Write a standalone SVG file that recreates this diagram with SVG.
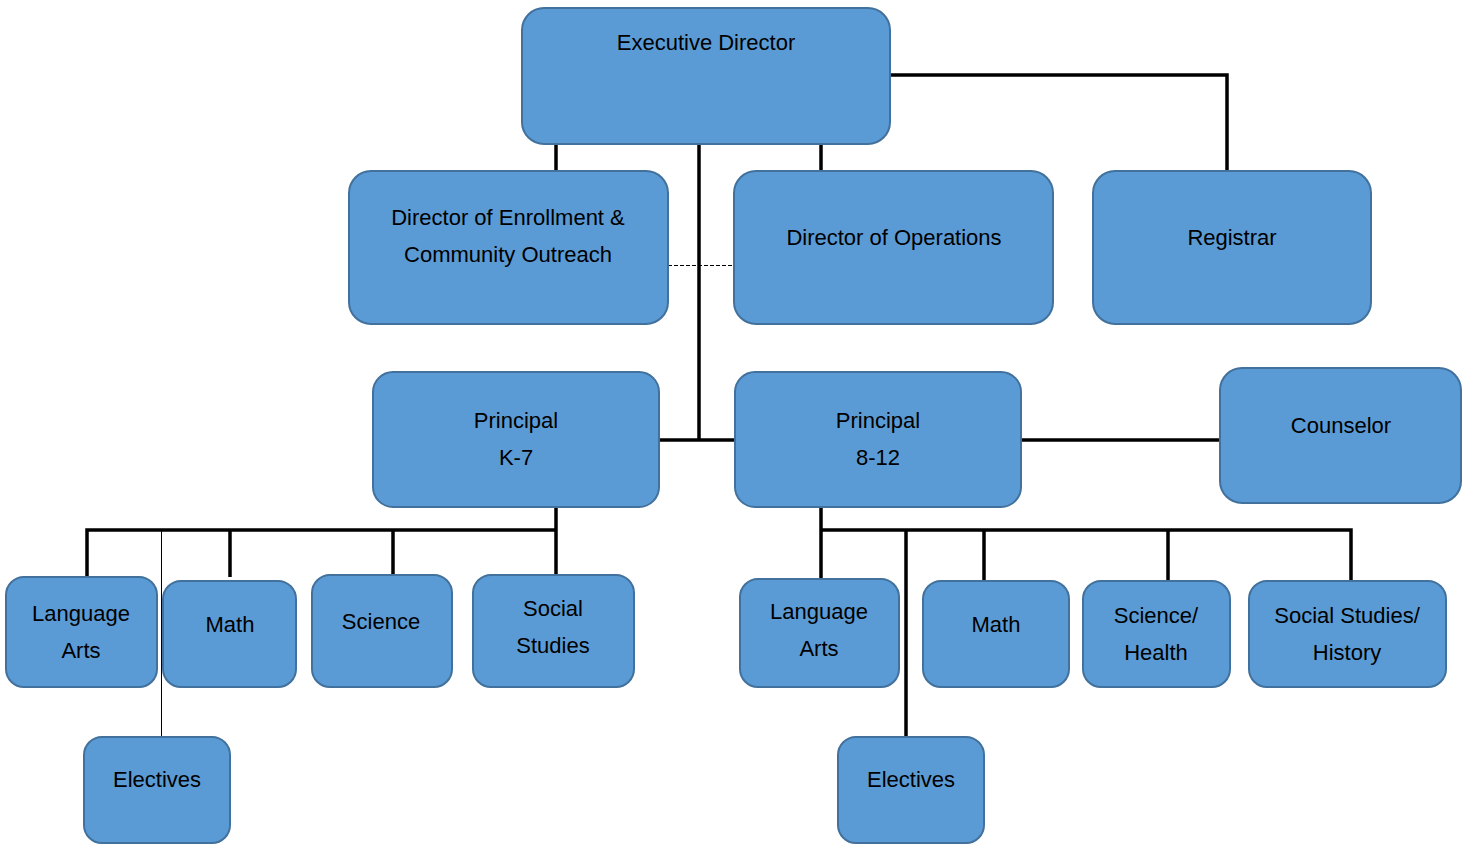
<svg xmlns="http://www.w3.org/2000/svg" width="1471" height="846" viewBox="0 0 1471 846">
  <style>
    .box { fill: #5B9BD5; stroke: #41719C; stroke-width: 2; }
    .lbl { font-family: "Liberation Sans", Arial, sans-serif; font-size: 22px; fill: #000; text-anchor: middle; }
    .thick { stroke: #000; stroke-width: 3.5; fill: none; }
    .thin { stroke: #000; stroke-width: 1; fill: none; }
    .dash { stroke: #000; stroke-width: 1.2; stroke-dasharray: 4 2; fill: none; }
  </style>
  <rect width="1471" height="846" fill="#fff"/>

  <!-- connectors -->
  <g id="connectors">
    <path class="thick" d="M556 144 V171"/>
    <path class="thick" d="M699 144 V440"/>
    <path class="thick" d="M821 144 V171"/>
    <path class="thick" d="M890 75 H1227 V171"/>
    <path class="dash" d="M668 265.5 H734"/>
    <path class="thick" d="M659 440 H735"/>
    <path class="thick" d="M1021 440 H1220"/>
    <!-- K-7 departments -->
    <path class="thick" d="M556 507 V530 M87 577 V530 H556 M230 530 V577 M393 530 V575 M556 530 V575"/>
    <path class="thin" d="M161.5 530 V737"/>
    <!-- 8-12 departments -->
    <path class="thick" d="M821 507 V579 M821 530 H1351 V581 M984 530 V581 M1168 530 V581"/>
    <path class="thick" d="M906 530 V737"/>
  </g>

  <g id="exec">
    <rect class="box" x="522" y="8" width="368" height="136" rx="22"/>
    <text class="lbl" x="706" y="50">Executive Director</text>
  </g>
  <g id="enrollment">
    <rect class="box" x="349" y="171" width="319" height="153" rx="22"/>
    <text class="lbl" x="508" y="225">Director of Enrollment &amp;</text>
    <text class="lbl" x="508" y="262">Community Outreach</text>
  </g>
  <g id="operations">
    <rect class="box" x="734" y="171" width="319" height="153" rx="22"/>
    <text class="lbl" x="894" y="245">Director of Operations</text>
  </g>
  <g id="registrar">
    <rect class="box" x="1093" y="171" width="278" height="153" rx="22"/>
    <text class="lbl" x="1232" y="245">Registrar</text>
  </g>
  <g id="principal-k7">
    <rect class="box" x="373" y="372" width="286" height="135" rx="20"/>
    <text class="lbl" x="516" y="428">Principal</text>
    <text class="lbl" x="516" y="465">K-7</text>
  </g>
  <g id="principal-812">
    <rect class="box" x="735" y="372" width="286" height="135" rx="20"/>
    <text class="lbl" x="878" y="428">Principal</text>
    <text class="lbl" x="878" y="465">8-12</text>
  </g>
  <g id="counselor">
    <rect class="box" x="1220" y="368" width="241" height="135" rx="22"/>
    <text class="lbl" x="1341" y="433">Counselor</text>
  </g>

  <g id="k7-language-arts">
    <rect class="box" x="6" y="577" width="151" height="110" rx="18"/>
    <text class="lbl" x="81" y="621">Language</text>
    <text class="lbl" x="81" y="658">Arts</text>
  </g>
  <g id="k7-math">
    <rect class="box" x="163" y="581" width="133" height="106" rx="18"/>
    <text class="lbl" x="230" y="632">Math</text>
  </g>
  <g id="k7-science">
    <rect class="box" x="312" y="575" width="140" height="112" rx="18"/>
    <text class="lbl" x="381" y="629">Science</text>
  </g>
  <g id="k7-social-studies">
    <rect class="box" x="473" y="575" width="161" height="112" rx="18"/>
    <text class="lbl" x="553" y="616">Social</text>
    <text class="lbl" x="553" y="653">Studies</text>
  </g>
  <g id="k7-electives">
    <rect class="box" x="84" y="737" width="146" height="106" rx="18"/>
    <text class="lbl" x="157" y="787">Electives</text>
  </g>

  <g id="hs-language-arts">
    <rect class="box" x="740" y="579" width="159" height="108" rx="18"/>
    <text class="lbl" x="819" y="619">Language</text>
    <text class="lbl" x="819" y="656">Arts</text>
  </g>
  <g id="hs-math">
    <rect class="box" x="923" y="581" width="146" height="106" rx="18"/>
    <text class="lbl" x="996" y="632">Math</text>
  </g>
  <g id="hs-science-health">
    <rect class="box" x="1083" y="581" width="147" height="106" rx="18"/>
    <text class="lbl" x="1156" y="623">Science/</text>
    <text class="lbl" x="1156" y="660">Health</text>
  </g>
  <g id="hs-social-studies-history">
    <rect class="box" x="1249" y="581" width="197" height="106" rx="18"/>
    <text class="lbl" x="1347" y="623">Social Studies/</text>
    <text class="lbl" x="1347" y="660">History</text>
  </g>
  <g id="hs-electives">
    <rect class="box" x="838" y="737" width="146" height="106" rx="18"/>
    <text class="lbl" x="911" y="787">Electives</text>
  </g>
</svg>
